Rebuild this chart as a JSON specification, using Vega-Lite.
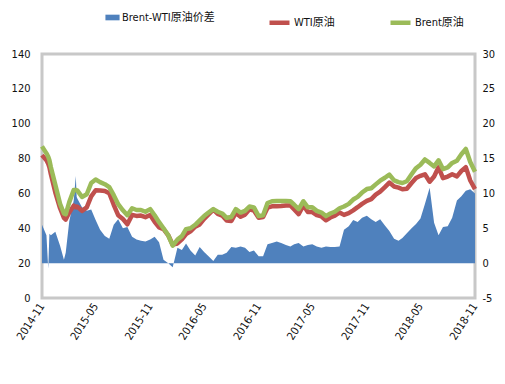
{
  "$schema": "https://vega.github.io/schema/vega-lite/v6.json",
  "width": 433,
  "height": 244,
  "autosize": {"type": "none"},
  "padding": {"left": 42, "top": 54, "right": 30, "bottom": 86},
  "background": "white",
  "config": {
    "view": {"stroke": "#C8C8C8", "strokeWidth": 3},
    "font": "Liberation Sans Narrow, DejaVu Sans Condensed, Liberation Sans, Noto Sans CJK SC",
    "axis": {"grid": false, "domain": false, "ticks": false, "labelFont": "Liberation Sans Narrow, DejaVu Sans Condensed, Liberation Sans, Noto Sans CJK SC", "labelFontSize": 11, "labelColor": "#111111", "title": null, "labelOverlap": false},
    "legend": {"labelFont": "Liberation Sans Narrow, DejaVu Sans Condensed, Liberation Sans, Noto Sans CJK SC", "labelFontSize": 11, "labelColor": "#111111", "title": null}
  },
  "data": {"values": [
    {"date":"2014-11-01","Brent":87,"WTI":82,"spread":5.5},
    {"date":"2014-11-16","Brent":83,"WTI":79,"spread":4.0},
    {"date":"2014-11-22","Brent":81,"WTI":77,"spread":-0.8},
    {"date":"2014-11-26","Brent":79,"WTI":75,"spread":4.2},
    {"date":"2014-12-01","Brent":75,"WTI":71,"spread":4.0},
    {"date":"2014-12-16","Brent":65,"WTI":60.5,"spread":4.5},
    {"date":"2015-01-01","Brent":54,"WTI":51.5,"spread":2.5},
    {"date":"2015-01-14","Brent":48.5,"WTI":46,"spread":0.5},
    {"date":"2015-01-20","Brent":48,"WTI":45,"spread":1.5},
    {"date":"2015-02-01","Brent":55,"WTI":49,"spread":6},
    {"date":"2015-02-16","Brent":62,"WTI":53,"spread":9},
    {"date":"2015-02-23","Brent":62,"WTI":52,"spread":12.5},
    {"date":"2015-02-26","Brent":61.8,"WTI":52.5,"spread":9.5},
    {"date":"2015-03-01","Brent":61.5,"WTI":52.3,"spread":9.2},
    {"date":"2015-03-16","Brent":58,"WTI":50,"spread":8},
    {"date":"2015-04-01","Brent":59.5,"WTI":52,"spread":7.5},
    {"date":"2015-04-16","Brent":66,"WTI":58.3,"spread":7.7},
    {"date":"2015-05-01","Brent":68,"WTI":61.8,"spread":6.2},
    {"date":"2015-05-16","Brent":66.5,"WTI":61.7,"spread":4.8},
    {"date":"2015-06-01","Brent":65.3,"WTI":61.4,"spread":3.9},
    {"date":"2015-06-16","Brent":63.6,"WTI":60.1,"spread":3.5},
    {"date":"2015-07-01","Brent":59,"WTI":53.5,"spread":5.5},
    {"date":"2015-07-16","Brent":53.8,"WTI":47.5,"spread":6.3},
    {"date":"2015-08-01","Brent":50.3,"WTI":45.3,"spread":5.0},
    {"date":"2015-08-16","Brent":47.5,"WTI":42.3,"spread":5.2},
    {"date":"2015-09-01","Brent":51.5,"WTI":47.7,"spread":3.8},
    {"date":"2015-09-16","Brent":50.5,"WTI":47.1,"spread":3.4},
    {"date":"2015-10-01","Brent":50.5,"WTI":47.3,"spread":3.2},
    {"date":"2015-10-16","Brent":49.5,"WTI":46.4,"spread":3.1},
    {"date":"2015-11-01","Brent":51,"WTI":47.6,"spread":3.4},
    {"date":"2015-11-16","Brent":47.5,"WTI":43.7,"spread":3.8},
    {"date":"2015-12-01","Brent":43.5,"WTI":40.5,"spread":3.0},
    {"date":"2015-12-16","Brent":40,"WTI":39.5,"spread":0.5},
    {"date":"2016-01-01","Brent":36,"WTI":36,"spread":0},
    {"date":"2016-01-16","Brent":30,"WTI":30.6,"spread":-0.6},
    {"date":"2016-02-01","Brent":33.5,"WTI":31.3,"spread":2.2},
    {"date":"2016-02-16","Brent":35.5,"WTI":33.6,"spread":1.9},
    {"date":"2016-03-01","Brent":39.5,"WTI":36.7,"spread":2.8},
    {"date":"2016-03-16","Brent":40,"WTI":38.2,"spread":1.8},
    {"date":"2016-04-01","Brent":42,"WTI":40.9,"spread":1.1},
    {"date":"2016-04-16","Brent":44.5,"WTI":42.2,"spread":2.3},
    {"date":"2016-05-01","Brent":47,"WTI":45.4,"spread":1.6},
    {"date":"2016-05-16","Brent":49,"WTI":48,"spread":1.0},
    {"date":"2016-06-01","Brent":51,"WTI":50.7,"spread":0.3},
    {"date":"2016-06-16","Brent":49.5,"WTI":48.3,"spread":1.2},
    {"date":"2016-07-01","Brent":48.5,"WTI":47.3,"spread":1.2},
    {"date":"2016-07-16","Brent":46,"WTI":44.5,"spread":1.5},
    {"date":"2016-08-01","Brent":46.5,"WTI":44.2,"spread":2.3},
    {"date":"2016-08-16","Brent":51,"WTI":48.8,"spread":2.2},
    {"date":"2016-09-01","Brent":49,"WTI":46.6,"spread":2.4},
    {"date":"2016-09-16","Brent":50,"WTI":47.8,"spread":2.2},
    {"date":"2016-10-01","Brent":52.5,"WTI":50.9,"spread":1.6},
    {"date":"2016-10-16","Brent":52,"WTI":50.2,"spread":1.8},
    {"date":"2016-11-01","Brent":47,"WTI":46,"spread":1.0},
    {"date":"2016-11-16","Brent":47.5,"WTI":46.5,"spread":1.0},
    {"date":"2016-12-01","Brent":54.5,"WTI":51.8,"spread":2.7},
    {"date":"2016-12-16","Brent":55.5,"WTI":52.6,"spread":2.9},
    {"date":"2017-01-01","Brent":55.7,"WTI":52.6,"spread":3.1},
    {"date":"2017-01-16","Brent":55.7,"WTI":52.8,"spread":2.9},
    {"date":"2017-02-01","Brent":55.7,"WTI":53.1,"spread":2.6},
    {"date":"2017-02-16","Brent":55.5,"WTI":53.1,"spread":2.4},
    {"date":"2017-03-01","Brent":53.5,"WTI":50.8,"spread":2.7},
    {"date":"2017-03-16","Brent":51,"WTI":48.1,"spread":2.9},
    {"date":"2017-04-01","Brent":55.5,"WTI":53.1,"spread":2.4},
    {"date":"2017-04-16","Brent":52,"WTI":49.4,"spread":2.6},
    {"date":"2017-05-01","Brent":52,"WTI":49.3,"spread":2.7},
    {"date":"2017-05-16","Brent":50,"WTI":47.6,"spread":2.4},
    {"date":"2017-06-01","Brent":49,"WTI":46.8,"spread":2.2},
    {"date":"2017-06-16","Brent":47,"WTI":44.6,"spread":2.4},
    {"date":"2017-07-01","Brent":48.5,"WTI":46.2,"spread":2.3},
    {"date":"2017-07-16","Brent":49.5,"WTI":47.2,"spread":2.3},
    {"date":"2017-08-01","Brent":51.5,"WTI":49.1,"spread":2.4},
    {"date":"2017-08-16","Brent":52.5,"WTI":47.7,"spread":4.8},
    {"date":"2017-09-01","Brent":54,"WTI":48.7,"spread":5.3},
    {"date":"2017-09-16","Brent":56.5,"WTI":50.3,"spread":6.2},
    {"date":"2017-10-01","Brent":58,"WTI":52.1,"spread":5.9},
    {"date":"2017-10-16","Brent":60.5,"WTI":54,"spread":6.5},
    {"date":"2017-11-01","Brent":62.5,"WTI":55.7,"spread":6.8},
    {"date":"2017-11-16","Brent":63,"WTI":56.7,"spread":6.3},
    {"date":"2017-12-01","Brent":65.2,"WTI":59.3,"spread":5.9},
    {"date":"2017-12-16","Brent":67.3,"WTI":61,"spread":6.3},
    {"date":"2018-01-01","Brent":69,"WTI":63.6,"spread":5.4},
    {"date":"2018-01-16","Brent":70.8,"WTI":66.2,"spread":4.6},
    {"date":"2018-02-01","Brent":67.5,"WTI":64,"spread":3.5},
    {"date":"2018-02-16","Brent":66.5,"WTI":63.3,"spread":3.2},
    {"date":"2018-03-01","Brent":66,"WTI":62.4,"spread":3.6},
    {"date":"2018-03-16","Brent":67,"WTI":62.7,"spread":4.3},
    {"date":"2018-04-01","Brent":71,"WTI":66,"spread":5.0},
    {"date":"2018-04-16","Brent":74.5,"WTI":68.9,"spread":5.6},
    {"date":"2018-05-01","Brent":76.5,"WTI":70.1,"spread":6.4},
    {"date":"2018-05-16","Brent":79.5,"WTI":71,"spread":8.5},
    {"date":"2018-06-01","Brent":77.5,"WTI":66.7,"spread":10.8},
    {"date":"2018-06-16","Brent":75.5,"WTI":69.7,"spread":5.8},
    {"date":"2018-07-01","Brent":79,"WTI":75,"spread":4.0},
    {"date":"2018-07-16","Brent":74,"WTI":68.8,"spread":5.2},
    {"date":"2018-08-01","Brent":75,"WTI":69.7,"spread":5.3},
    {"date":"2018-08-16","Brent":77.5,"WTI":71,"spread":6.5},
    {"date":"2018-09-01","Brent":78.8,"WTI":69.8,"spread":9.0},
    {"date":"2018-09-16","Brent":82.5,"WTI":72.9,"spread":9.6},
    {"date":"2018-10-01","Brent":85.5,"WTI":75.1,"spread":10.4},
    {"date":"2018-10-16","Brent":78,"WTI":67.4,"spread":10.6},
    {"date":"2018-11-01","Brent":72.5,"WTI":62.5,"spread":10}
  ]},
  "encoding": {
    "x": {
      "field": "date", "type": "temporal",
      "scale": {"type": "utc", "domain": ["2014-11-01", "2018-11-01"]},
      "axis": {
        "values": [
          {"year": 2014, "month": 11, "date": 1, "utc": true},
          {"year": 2015, "month": 5, "date": 1, "utc": true},
          {"year": 2015, "month": 11, "date": 1, "utc": true},
          {"year": 2016, "month": 5, "date": 1, "utc": true},
          {"year": 2016, "month": 11, "date": 1, "utc": true},
          {"year": 2017, "month": 5, "date": 1, "utc": true},
          {"year": 2017, "month": 11, "date": 1, "utc": true},
          {"year": 2018, "month": 5, "date": 1, "utc": true},
          {"year": 2018, "month": 11, "date": 1, "utc": true}
        ],
        "labelExpr": "utcFormat(datum.value, '%Y-%m')",
        "labelAngle": -57, "labelAlign": "right", "labelBaseline": "middle",
        "labelPadding": 6, "labelFlush": false
      }
    }
  },
  "layer": [
    {
      "mark": {"type": "area", "interpolate": "linear"},
      "encoding": {
        "y": {"field": "spread", "type": "quantitative",
              "scale": {"domain": [-5, 30], "nice": false, "zero": false},
              "axis": {"orient": "right", "values": [-5, 0, 5, 10, 15, 20, 25, 30], "labelPadding": 7,
                       "labelExpr": "'' + datum.value"}},
        "y2": {"datum": 0},
        "fill": {"datum": "Brent-WTI原油价差", "type": "nominal",
                 "scale": {"range": ["#4F81BD"]},
                 "legend": {"orient": "none", "legendX": 63, "legendY": -44, "direction": "horizontal",
                            "symbolType": "M-1,-0.4H1V0.4H-1Z", "symbolSize": 200, "symbolStrokeWidth": 0, "labelOffset": 2}}
      }
    },
    {
      "layer": [
        {
          "mark": {"type": "line", "strokeWidth": 4.5, "strokeJoin": "round"},
          "encoding": {
            "y": {"field": "WTI", "type": "quantitative",
                  "scale": {"domain": [0, 140], "nice": false},
                  "axis": {"orient": "left", "values": [0, 20, 40, 60, 80, 100, 120, 140], "labelPadding": 12, "labelOverlap": false}},
            "stroke": {"datum": "WTI原油", "type": "nominal",
                       "scale": {"domain": ["WTI原油", "Brent原油"], "range": ["#C0504D", "#9BBB59"]},
                       "legend": {"orient": "none", "legendX": 225, "legendY": -44, "direction": "horizontal",
                                  "symbolType": "stroke", "symbolStrokeWidth": 4.5, "symbolSize": 400,
                                  "columnPadding": 46, "labelOffset": 2}}
          }
        },
        {
          "mark": {"type": "line", "strokeWidth": 4.5, "strokeJoin": "round"},
          "encoding": {
            "y": {"field": "Brent", "type": "quantitative",
                  "axis": {"orient": "left", "values": [0, 20, 40, 60, 80, 100, 120, 140], "labelPadding": 12, "labelOverlap": false}},
            "stroke": {"datum": "Brent原油", "type": "nominal"}
          }
        }
      ]
    }
  ],
  "resolve": {"scale": {"y": "independent"}}
}
